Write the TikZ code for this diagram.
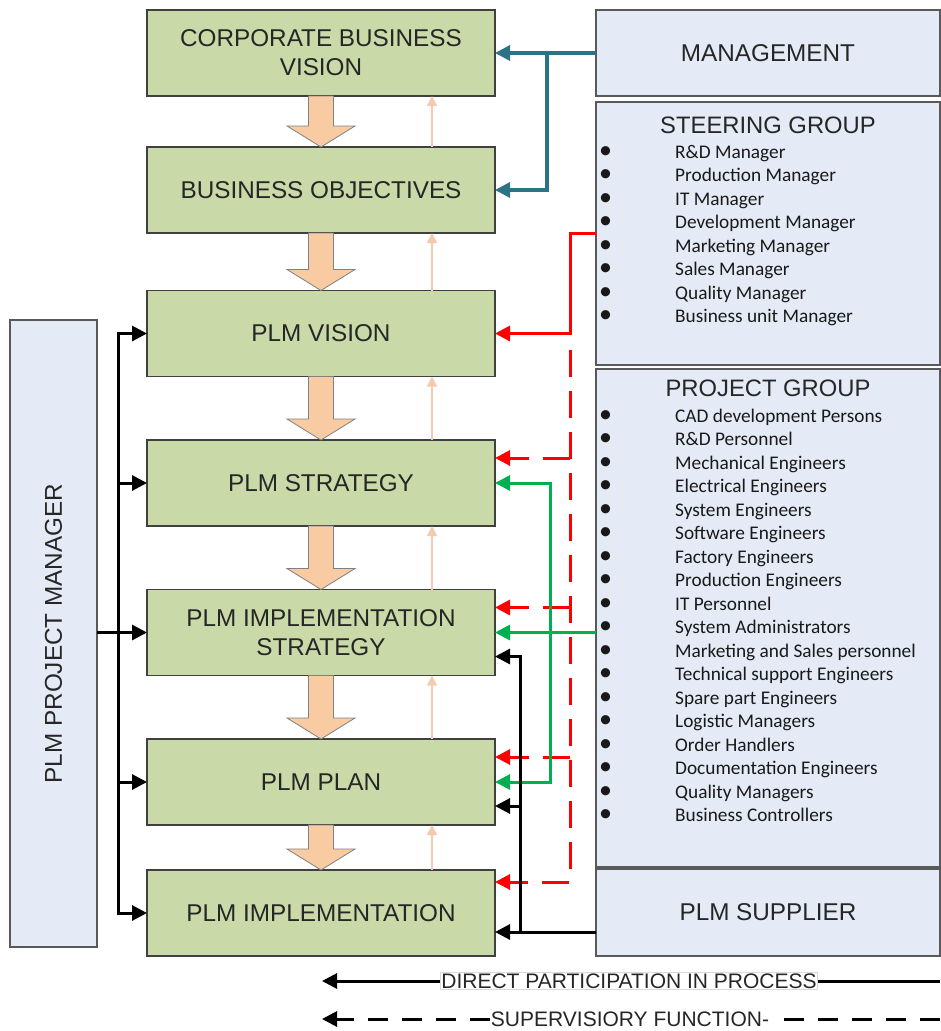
\documentclass[tikz,border=0pt]{standalone}
\usepackage{graphicx}
\usepackage{fontspec}
\setmainfont{Liberation Sans}
\newfontfamily\listfont{Carlito}
\usetikzlibrary{arrows.meta, calc}

\definecolor{boxgreen}{HTML}{C9D9A8}
\definecolor{boxblue}{HTML}{E5EBF6}
\definecolor{flowpeach}{HTML}{F9CBA3}
\definecolor{backpeach}{HTML}{F4CBB0}
\definecolor{mgmtteal}{HTML}{2B7385}
\definecolor{projgreen}{HTML}{00B050}

\newcommand{\dotitem}{{\fontsize{26}{0}\selectfont\textbullet}}

\begin{document}
\begin{tikzpicture}[x=1pt, y=-1pt,
        stage/.style={rectangle, draw=black!75, line width=1.3pt, fill=boxgreen, minimum width=348pt, minimum height=86pt, inner sep=0pt, outer sep=0pt, align=center, text=black!85, font=\fontsize{24.3}{29}\selectfont},
        teambox/.style={rectangle, draw=black!65, line width=1.3pt, fill=boxblue, minimum width=344pt, inner sep=0pt, outer sep=0pt, align=center, text=black!85, font=\fontsize{24.3}{29}\selectfont},
        header/.style={text=black!85, font=\fontsize{23.8}{28}\selectfont},
        members/.style={anchor=north west, inner sep=0pt, text=black!90, font=\listfont\fontsize{19.3}{23.5}\selectfont},
        legend/.style={draw=black!15, fill=white, inner sep=1pt, text=black!85, font=\fontsize{21}{24}\selectfont},
        bigtip/.tip={Triangle[length=15pt, width=15pt]},
        smalltip/.tip={Triangle[length=10pt, width=10pt]},
        flowarrow/.style={draw=black!50, line width=0.8pt, fill=flowpeach},
        backarrow/.style={draw=backpeach, line width=1.6pt, -smalltip},
        mgmtline/.style={draw=mgmtteal, line width=3.2pt},
        steerline/.style={draw=red, line width=3pt},
        superline/.style={draw=red, line width=3pt, dash pattern=on 27pt off 14pt, -bigtip},
        projline/.style={draw=projgreen, line width=3pt},
        suppline/.style={draw=black, line width=3pt},
        legdash/.style={draw=black, line width=3pt, dash pattern=on 20pt off 14pt}
    ]
    \useasboundingbox (0,0) rectangle (941,1031);

    % process stages
    \node[stage] (corpvision) at (321,53) {CORPORATE BUSINESS\\VISION};
    \node[stage] (busobj) at (321,190) {BUSINESS OBJECTIVES};
    \node[stage] (plmvision) at (321,333.5) {PLM VISION};
    \node[stage] (plmstrat) at (321,483) {PLM STRATEGY};
    \node[stage] (implstrat) at (321,632.5) {PLM IMPLEMENTATION\\STRATEGY};
    \node[stage] (plmplan) at (321,782) {PLM PLAN};
    \node[stage] (plmimpl) at (321,913) {PLM IMPLEMENTATION};

    % participants
    \node[teambox, minimum height=86pt] (mgmt) at (768,53) {MANAGEMENT};
    \node[teambox, minimum height=263pt] (steer) at (768,233.5) {};
    \node[teambox, minimum height=498pt] (projgrp) at (768,618) {};
    \node[teambox, minimum height=87pt] (supplier) at (768,912.5) {PLM SUPPLIER};
    \node[teambox, minimum width=87pt, minimum height=627pt] (pm) at (53.5,633.5) {\rotatebox{90}{PLM PROJECT MANAGER}};

    \node[header] (steerhead) at (768,125) {STEERING GROUP};
    \node[members] (steerlist) at (599,141.8) {\begin{tabular}{@{}p{76pt}@{}l@{}}
        \dotitem & R\&D Manager\\
        \dotitem & Production Manager\\
        \dotitem & IT Manager\\
        \dotitem & Development Manager\\
        \dotitem & Marketing Manager\\
        \dotitem & Sales Manager\\
        \dotitem & Quality Manager\\
        \dotitem & Business unit Manager
    \end{tabular}};

    \node[header] (projhead) at (768,388) {PROJECT GROUP};
    \node[members] (projlist) at (599,405.8) {\begin{tabular}{@{}p{76pt}@{}l@{}}
        \dotitem & CAD development Persons\\
        \dotitem & R\&D Personnel\\
        \dotitem & Mechanical Engineers\\
        \dotitem & Electrical Engineers\\
        \dotitem & System Engineers\\
        \dotitem & Software Engineers\\
        \dotitem & Factory Engineers\\
        \dotitem & Production Engineers\\
        \dotitem & IT Personnel\\
        \dotitem & System Administrators\\
        \dotitem & Marketing and Sales personnel\\
        \dotitem & Technical support Engineers\\
        \dotitem & Spare part Engineers\\
        \dotitem & Logistic Managers\\
        \dotitem & Order Handlers\\
        \dotitem & Documentation Engineers\\
        \dotitem & Quality Managers\\
        \dotitem & Business Controllers
    \end{tabular}};

    % flow down and feedback up
    \foreach \src/\dst in {corpvision/busobj, busobj/plmvision, plmvision/plmstrat, plmstrat/implstrat, implstrat/plmplan, plmplan/plmimpl} {
        \draw[flowarrow] ($(\src.south)+(-12.5,0)$) -- ($(\dst.north)+(-12.5,-21)$) -- ($(\dst.north)+(-34,-21)$) -- (\dst.north)
            -- ($(\dst.north)+(34,-21)$) -- ($(\dst.north)+(12.5,-21)$) -- ($(\src.south)+(12.5,0)$) -- cycle;
        \draw[backarrow] ([xshift=111pt]\dst.north) -- ([xshift=111pt]\src.south);
    }

    % management
    \coordinate (mgmtsplit) at (547,53);
    \draw[mgmtline, -bigtip] (mgmt.west) -- (corpvision.east);
    \draw[mgmtline, -bigtip] (mgmtsplit) |- (busobj.east);

    % steering group
    \coordinate (steerbend) at (570,233.5);
    \coordinate (dashtop) at (570,350);
    \draw[steerline, -bigtip] (steer.west) -- (steerbend) |- (plmvision.east);
    \coordinate (redstrat) at ([yshift=-18pt]plmstrat.north east);
    \coordinate (redimpl) at ([yshift=-18pt]implstrat.north east);
    \coordinate (redplan) at ([yshift=-18pt]plmplan.north east);
    \coordinate (redlast) at ([yshift=-12pt]plmimpl.north east);
    \draw[superline] (dashtop) |- (redlast);
    \draw[superline] (redstrat -| dashtop) -- (redstrat);
    \draw[superline] (redimpl -| dashtop) -- (redimpl);
    \draw[superline] (redplan -| dashtop) -- (redplan);

    % project group
    \coordinate (greenbend) at (550,782);
    \draw[projline, -bigtip] (implstrat.east -| projgrp.west) -- (implstrat.east);
    \draw[projline, bigtip-bigtip] (plmstrat.east) -| (greenbend) -- (plmplan.east);

    % supplier
    \coordinate (blkimpl) at ([yshift=-19pt]plmimpl.east);
    \coordinate (blkstrat) at ([yshift=-24pt]implstrat.east);
    \coordinate (blkplan) at ([yshift=-24pt]plmplan.east);
    \coordinate (suppbend) at (520,931.5);
    \draw[suppline, -bigtip] (blkimpl -| supplier.west) -- (blkimpl);
    \draw[suppline, -bigtip] (suppbend) |- (blkstrat);
    \draw[suppline, -bigtip] (blkplan -| suppbend) -- (blkplan);

    % project manager
    \coordinate (pmbot) at (118,913);
    \draw[suppline, bigtip-bigtip] (plmvision.west) -| (pmbot) -- (plmimpl.west);
    \draw[suppline, -bigtip] (pmbot |- plmstrat.west) -- (plmstrat.west);
    \draw[suppline, -bigtip] (pmbot |- plmplan.west) -- (plmplan.west);
    \draw[suppline, -bigtip] (pm.east |- implstrat.west) -- (implstrat.west);

    % legend
    \node[legend] (directlbl) at (629,981) {DIRECT PARTICIPATION IN PROCESS};
    \node[legend, draw=none] (superlbl) at (630,1019) {SUPERVISIORY FUNCTION-};
    \coordinate (directright) at (940,981);
    \coordinate (directleft) at (322,981);
    \coordinate (superright) at (940,1019);
    \coordinate (superleft) at (322,1019);
    \draw[suppline] (directright) -- (directlbl.east);
    \draw[suppline, -bigtip] (directlbl.west) -- (directleft);
    \draw[legdash] (superright) -- (superlbl.east);
    \draw[legdash, -bigtip] (superlbl.west) -- (superleft);

\end{tikzpicture}
\end{document}
